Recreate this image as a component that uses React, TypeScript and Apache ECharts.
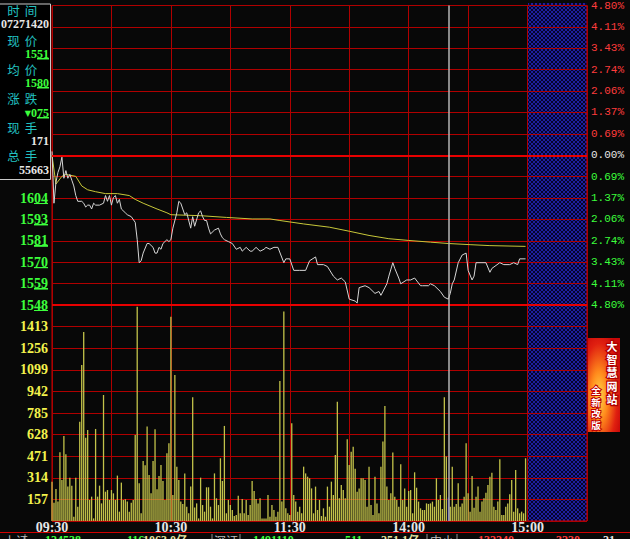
import React, { useEffect, useRef } from "react";
import * as echarts from "echarts";

// previous close, the 0.00% line
const PREV_CLOSE = 1626;
// minute under the grey cursor (14:20)
const CURSOR_MINUTE = 200;

// [minutes after 09:30 with the lunch break taken out, price]
const PRICE_LINE: [number, number][] = [
  [0, 1628], [1, 1601], [2, 1612], [3, 1617], [4, 1620], [5, 1625], [6, 1614], [7, 1618],
  [8, 1614], [9, 1616], [10, 1613], [11, 1610], [12, 1605], [13, 1602], [15, 1602], [16, 1601],
  [17, 1599], [18, 1600], [19, 1600], [20, 1598], [21, 1601], [22, 1600], [24, 1600], [26, 1601],
  [27, 1605], [28, 1602], [29, 1605], [30, 1600], [31, 1604], [32, 1605], [33, 1601], [34, 1603],
  [35, 1598], [37, 1596], [38, 1595], [40, 1594], [42, 1591], [43, 1582], [44, 1570], [45, 1571],
  [46, 1575], [48, 1580], [49, 1580], [51, 1578], [52, 1575], [53, 1575], [54, 1578], [55, 1577],
  [56, 1580], [58, 1582], [59, 1581], [60, 1582], [61, 1588], [63, 1596], [64, 1602], [65, 1601],
  [67, 1595], [68, 1596], [70, 1588], [71, 1594], [72, 1589], [74, 1596], [75, 1597], [76, 1594],
  [77, 1592], [78, 1592], [79, 1588], [80, 1585], [82, 1587], [84, 1588], [85, 1585], [86, 1583],
  [87, 1582], [89, 1581], [91, 1580], [93, 1577], [95, 1578], [96, 1576], [98, 1578], [100, 1576],
  [101, 1576], [103, 1578], [105, 1576], [107, 1577], [108, 1578], [110, 1577], [112, 1578], [114, 1578],
  [117, 1570], [118, 1572], [120, 1572], [122, 1566], [125, 1566], [128, 1566], [130, 1571], [133, 1573],
  [134, 1569], [137, 1569], [139, 1568], [142, 1563], [144, 1561], [146, 1562], [148, 1560], [150, 1551],
  [153, 1550], [154, 1549], [155, 1557], [158, 1558], [160, 1557], [163, 1554], [165, 1555], [166, 1553],
  [169, 1559], [170, 1563], [172, 1570], [173, 1567], [175, 1562], [176, 1559], [179, 1561], [181, 1561],
  [183, 1562], [186, 1558], [187, 1558], [190, 1558], [191, 1559], [193, 1558], [196, 1555], [198, 1552],
  [200, 1551], [201, 1554], [202, 1559], [203, 1561], [205, 1570], [207, 1574], [209, 1575], [210, 1566],
  [212, 1561], [213, 1563], [214, 1570], [217, 1570], [219, 1570], [221, 1565], [222, 1567], [226, 1570],
  [228, 1569], [231, 1569], [233, 1570], [235, 1569], [236, 1572], [239, 1572],
];

const AVG_LINE: [number, number][] = [
  [0, 1626], [2, 1611], [5, 1615], [7, 1616], [12, 1615], [15, 1610], [18, 1608], [22, 1607],
  [27, 1606], [33, 1606], [39, 1605], [42, 1603], [46, 1601], [53, 1598], [58, 1596], [60, 1595],
  [75, 1594.5], [88, 1593.6], [101, 1592.8], [110, 1592.8], [115, 1592], [127, 1590.2], [140, 1588.5],
  [150, 1586.4], [160, 1584.2], [170, 1582.5], [180, 1581.6], [191, 1580.7], [200, 1580], [211, 1579.4],
  [221, 1578.9], [239, 1578.5],
];

// one volume per minute, 0..239
const VOLUMES: number[] = [
  286, 133, 233, 141, 499, 298, 618, 485, 250, 315,
  257, 31, 315, 104, 722, 1134, 1374, 606, 661, 153,
  177, 19, 669, 177, 257, 128, 916, 213, 225, 153,
  225, 201, 153, 330, 68, 279, 153, 158, 141, 68,
  133, 153, 625, 1558, 274, 56, 436, 405, 686, 334,
  201, 436, 666, 230, 327, 407, 291, 153, 492, 565,
  1485, 189, 1061, 395, 298, 141, 124, 346, 104, 56,
  250, 899, 99, 128, 19, 315, 116, 68, 245, 245,
  104, 19, 346, 165, 116, 456, 291, 691, 56, 153,
  116, 80, 36, 44, 184, 56, 160, 56, 153, 44,
  116, 291, 218, 160, 128, 165, 19, 19, 19, 189,
  31, 116, 80, 31, 68, 1018, 141, 1522, 92, 56,
  44, 710, 189, 141, 68, 104, 56, 395, 346, 322,
  310, 237, 56, 250, 80, 153, 36, 92, 31, 250,
  104, 286, 189, 480, 867, 165, 262, 225, 165, 594,
  407, 504, 540, 380, 213, 237, 310, 310, 298, 104,
  395, 116, 44, 322, 128, 56, 395, 577, 836, 250,
  153, 201, 497, 177, 153, 104, 412, 153, 237, 104,
  218, 225, 56, 354, 242, 141, 92, 80, 80, 128,
  124, 128, 141, 104, 310, 153, 189, 87, 900, 468,
  171, 104, 395, 104, 124, 274, 104, 128, 177, 565,
  201, 68, 327, 97, 177, 250, 68, 141, 165, 206,
  262, 322, 351, 104, 80, 141, 448, 44, 44, 104,
  128, 194, 298, 68, 371, 92, 56, 68, 56, 456,
];

const TIME_LABELS: Record<number, string> = {
  0: "09:30",
  60: "10:30",
  120: "11:30",
  180: "14:00",
  240: "15:00",
};

const INFO_TITLES = ["时间", "现价", "均价", "涨跌", "现手", "总手"];
const INFO_VALUES = ["07271420", "1551", "1580", "075", "171", "55663"];

const AD_TITLE = "大智慧网站";
const AD_SUB = "全新改版";

const STATUS_TEXTS = ["上证", "124538", "116", "1063.0亿", "深证", "1491110", "511", "251.1亿", "中小", "132240", "3230", "21"];

const GREEN = "#3cff3c";
const RED = "#ff3c3c";
const WHITE = "#e6e6e6";
const CYAN = "#22c2c2";
const YELLOW = "#f2f24c";
const GRID_RED = "#b00000";
const NUM_FONT = '"Liberation Serif", serif';
const CJK_FONT = '"Noto Sans CJK SC", sans-serif';

const toPct = (p: number) => (p / PREV_CLOSE - 1) * 100;

const underline = (color: string) =>
  new echarts.graphic.LinearGradient(0, 0, 0, 1, [
    { offset: 0, color: "rgba(0,0,0,0)" },
    { offset: 0.88, color: "rgba(0,0,0,0)" },
    { offset: 0.88, color },
    { offset: 1, color },
  ]);

const numRich = (color: string, size: number) => ({
  color,
  fontFamily: NUM_FONT,
  fontWeight: "bold" as const,
  fontSize: size,
});

function makeHatch() {
  const c = document.createElement("canvas");
  c.width = 4;
  c.height = 4;
  const g = c.getContext("2d")!;
  g.fillStyle = "#05052c";
  g.fillRect(0, 0, 4, 4);
  g.fillStyle = "#1e1ea0";
  for (let i = 0; i < 4; i++) {
    g.fillRect(i, i, 1, 1);
    g.fillRect(3 - i, i, 1, 1);
  }
  return c;
}

const App: React.FC = () => {
  const chartRef = useRef<HTMLDivElement>(null);

  useEffect(() => {
    document.body.style.margin = "0";
    document.body.style.background = "#000";
    const chart = echarts.init(chartRef.current!, undefined, { renderer: "svg" });

    const pctInterval = 4.8 / 7;

    const priceRich = {
      r: numRich(RED, 14),
      ru: { ...numRich(RED, 14), backgroundColor: underline(RED), height: 12, lineHeight: 12 },
      w: numRich(WHITE, 14),
      wu: { ...numRich(WHITE, 14), backgroundColor: underline(WHITE), height: 12, lineHeight: 12 },
      g: numRich(GREEN, 14),
      gu: { ...numRich(GREEN, 14), backgroundColor: underline(GREEN), height: 12, lineHeight: 12 },
    };

    const infoRich = {
      a: { ...numRich(GREEN, 12), lineHeight: 11 },
      u: { ...numRich(GREEN, 12), backgroundColor: underline(GREEN), height: 11, lineHeight: 11 },
      t: { color: GREEN, fontSize: 8, lineHeight: 11, fontFamily: '"DejaVu Sans"' },
    };

    // the quote box in the top-left corner hides the upper price labels
    const infoElements: any[] = [
      {
        type: "rect",
        shape: { x: -1, y: 4, width: 51.5, height: 175.5 },
        style: { fill: "#000", stroke: "#c8c8c8", lineWidth: 1 },
        z: 50,
      },
    ];
    const titleY = [10, 40, 69, 98, 127, 155];
    const valueY = [24, 54, 83, 113, 141, 170];
    INFO_TITLES.forEach((t, i) => {
      [13.5, 31].forEach((x, j) => {
        infoElements.push({
          type: "text",
          x,
          y: titleY[i],
          z: 51,
          style: {
            text: t.charAt(j),
            fill: CYAN,
            font: `12.5px ${CJK_FONT}`,
            lineHeight: 12,
            align: "center",
            verticalAlign: "middle",
          },
        });
      });
    });
    INFO_VALUES.forEach((v, i) => {
      let text = v;
      let fill = WHITE;
      if (i === 1 || i === 2) text = `{a|${v.slice(0, 2)}}{u|${v.slice(2)}}`;
      if (i === 3) text = `{t|▼}{a|${v.slice(0, 1)}}{u|${v.slice(1)}}`;
      if (i >= 1 && i <= 3) fill = GREEN;
      infoElements.push({
        type: "text",
        x: i === 0 ? 25 : 49,
        y: valueY[i],
        z: 51,
        style: {
          text,
          rich: infoRich,
          fill,
          font: `bold 12px ${NUM_FONT}`,
          lineHeight: 11,
          align: i === 0 ? "center" : "right",
          verticalAlign: "middle",
        },
      });
    });

    const statusX = [4, 45, 127, 143, 214, 253, 345, 381, 430, 478, 556, 603];
    const statusColor = ["#bcbcbc", GREEN, GREEN, "#e4e4a0", "#bcbcbc", GREEN, GREEN, "#e4e4a0", "#bcbcbc", RED, RED, WHITE];
    const statusElements: any[] = [
      { type: "line", shape: { x1: 0, y1: 532.5, x2: 630, y2: 532.5 }, style: { stroke: "#d00000", lineWidth: 1 } },
      ...[25, 212, 240, 427, 457].map((x) => ({
        type: "line",
        shape: { x1: x, y1: 534, x2: x, y2: 539 },
        style: { stroke: "#909090", lineWidth: 1 },
      })),
      ...STATUS_TEXTS.map((t, i) => ({
        type: "text",
        x: statusX[i],
        y: 534,
        style: {
          text: t,
          fill: statusColor[i],
          font: i % 4 === 0 ? `12px ${CJK_FONT}` : `bold 12px ${NUM_FONT}`,
          verticalAlign: "top",
        },
      })),
    ];

    const adElements: any[] = [
      {
        type: "rect",
        shape: { x: 588, y: 338, width: 32, height: 94 },
        style: {
          fill: new echarts.graphic.RadialGradient(0.35, 0.62, 0.75, [
            { offset: 0, color: "#ffd84a" },
            { offset: 0.35, color: "#ff8a1c" },
            { offset: 0.75, color: "#e02010" },
            { offset: 1, color: "#c80808" },
          ]),
        },
      },
      ...AD_TITLE.split("").map((ch, i) => ({
        type: "text",
        x: 612,
        y: 346 + i * 13.2,
        style: {
          text: ch,
          fill: "#ffffff",
          stroke: "#b00000",
          lineWidth: 2.5,
          font: `bold 11px ${CJK_FONT}`,
          lineHeight: 11,
          align: "center",
          verticalAlign: "middle",
        },
      })),
      ...AD_SUB.split("").map((ch, i) => ({
        type: "text",
        x: 596,
        y: 390 + i * 11.7,
        style: {
          text: ch,
          fill: "#ffffff",
          stroke: "#c00000",
          lineWidth: 2,
          font: `bold 9.5px ${CJK_FONT}`,
          lineHeight: 9.5,
          align: "center",
          verticalAlign: "middle",
        },
      })),
    ];

    const gridLine = { show: true, lineStyle: { color: GRID_RED, width: 1, type: "solid" as const } };

    const option: any = {
      animation: false,
      backgroundColor: "#080808",
      grid: [
        { left: 52, top: 3, width: 535, height: 302, show: true, borderColor: "#c80000", borderWidth: 1 },
        { left: 52, top: 305, width: 535, height: 216, show: true, borderColor: "#c80000", borderWidth: 1 },
      ],
      xAxis: [
        {
          type: "value",
          gridIndex: 0,
          min: 0,
          max: 270,
          interval: 30,
          axisLine: { show: false },
          axisTick: { show: false },
          axisLabel: { show: false },
          splitLine: gridLine,
        },
        {
          type: "value",
          gridIndex: 1,
          min: 0,
          max: 270,
          interval: 30,
          axisLine: { show: false },
          axisTick: { show: false },
          splitLine: gridLine,
          axisLabel: {
            margin: -1,
            color: WHITE,
            fontFamily: NUM_FONT,
            fontWeight: "bold",
            fontSize: 14,
            formatter: (v: number) => TIME_LABELS[v] ?? "",
          },
        },
      ],
      yAxis: [
        {
          type: "value",
          gridIndex: 0,
          min: -4.8,
          max: 4.8,
          interval: pctInterval,
          axisLine: { show: false },
          axisTick: { show: false },
          splitLine: gridLine,
          axisLabel: {
            margin: 4,
            rich: priceRich,
            formatter: (v: number) => {
              // labels behind the quote box are not drawn
              if (v > -0.7) return "";
              const s = String(Math.round(PREV_CLOSE * (1 + v / 100)));
              const k = v > 0.001 ? "r" : v < -0.001 ? "g" : "w";
              return `{${k}|${s.slice(0, 2)}}{${k}u|${s.slice(2)}}`;
            },
          },
        },
        {
          type: "value",
          gridIndex: 0,
          position: "right",
          min: -4.8,
          max: 4.8,
          interval: pctInterval,
          axisLine: { show: false },
          axisTick: { show: false },
          splitLine: { show: false },
          axisLabel: {
            margin: 4,
            fontFamily: '"Liberation Mono", monospace',
            fontSize: 11,
            color: (v: any) => {
              const n = parseFloat(v);
              return n > 0.001 ? RED : n < -0.001 ? GREEN : WHITE;
            },
            formatter: (v: number) => Math.abs(v).toFixed(2) + "%",
          },
        },
        {
          type: "value",
          gridIndex: 1,
          min: 0,
          max: 1570,
          interval: 157,
          axisLine: { show: false },
          axisTick: { show: false },
          splitLine: gridLine,
          axisLabel: {
            margin: 4,
            color: YELLOW,
            fontFamily: NUM_FONT,
            fontWeight: "bold",
            fontSize: 14,
            formatter: (v: number) => (v <= 0 || v >= 1570 ? "" : String(v)),
          },
        },
      ],
      series: [
        {
          name: "price",
          type: "line",
          xAxisIndex: 0,
          yAxisIndex: 0,
          data: PRICE_LINE.map(([m, p]) => [m, toPct(p)]),
          symbol: "none",
          lineStyle: { color: "#d6d6d6", width: 1 },
          z: 4,
          markLine: {
            silent: true,
            symbol: "none",
            label: { show: false },
            data: [
              { yAxis: 0, lineStyle: { color: "#e80000", width: 2, type: "solid" } },
              { yAxis: -4.8, lineStyle: { color: "#e80000", width: 2, type: "solid" } },
              { xAxis: CURSOR_MINUTE, lineStyle: { color: "#b4b4b4", width: 1.5, type: "solid" } },
            ],
          },
        },
        {
          name: "average",
          type: "line",
          xAxisIndex: 0,
          yAxisIndex: 0,
          data: AVG_LINE.map(([m, p]) => [m, toPct(p)]),
          symbol: "none",
          lineStyle: { color: "#c8c83a", width: 1 },
          z: 3,
        },
        {
          name: "volume",
          type: "bar",
          xAxisIndex: 1,
          yAxisIndex: 2,
          barWidth: 1.3,
          itemStyle: { color: "#c2c24a" },
          data: VOLUMES.map((v, i) =>
            i === CURSOR_MINUTE ? { value: [i, v], itemStyle: { color: "#2a2ab8" } } : [i, v]
          ),
          markLine: {
            silent: true,
            symbol: "none",
            label: { show: false },
            data: [{ xAxis: CURSOR_MINUTE, lineStyle: { color: "#b4b4b4", width: 1.5, type: "solid" } }],
          },
        },
      ],
      graphic: {
        elements: [
          {
            type: "rect",
            z: -1,
            shape: { x: 528, y: 3, width: 59, height: 518 },
            style: { fill: { image: makeHatch(), repeat: "repeat" } },
          },
          ...infoElements,
          ...adElements,
          ...statusElements,
        ],
      },
    };

    chart.setOption(option);

    return () => {
      chart.dispose();
    };
  }, []);

  return <div ref={chartRef} style={{ width: 630, height: 539 }}></div>;
};

export default App;
